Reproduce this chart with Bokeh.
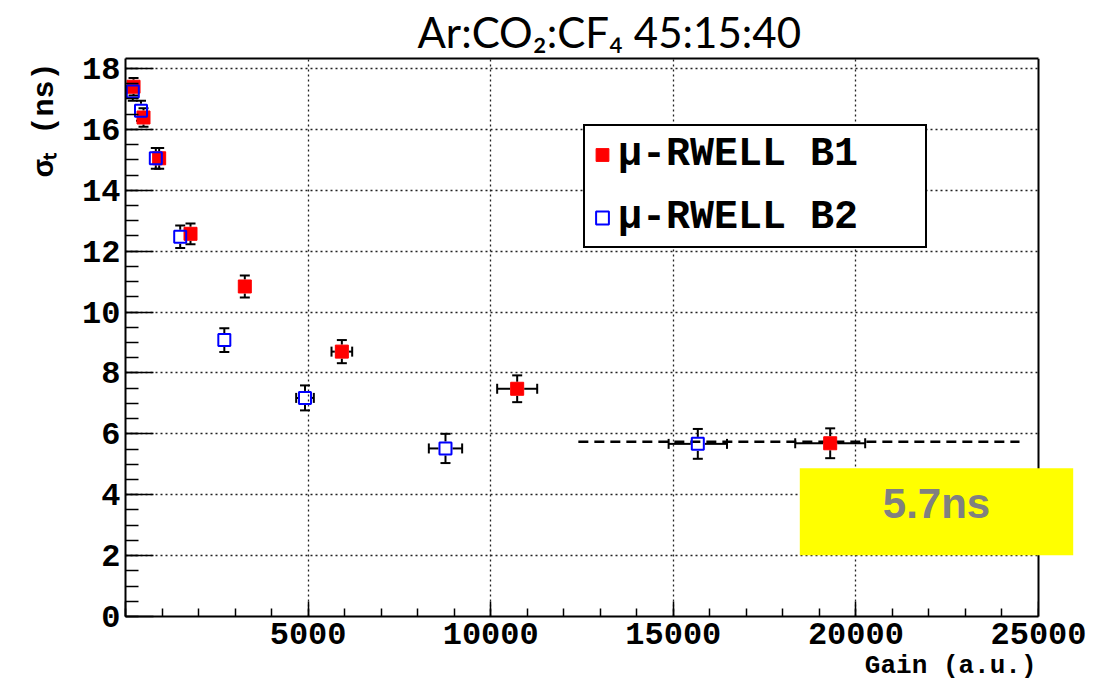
from bokeh.plotting import figure
from bokeh.models import (Range1d, FixedTicker, Whisker, TeeHead, ColumnDataSource,
                          Label, Legend, LegendItem, Title, LinearAxis, Span, BoxAnnotation)
from bokeh.embed import file_html
from bokeh.resources import INLINE

# ---------------- data ----------------
b1_gain = [220, 493, 922, 1780, 3267, 5924, 10725, 19296]
b1_sigma = [17.40, 16.39, 15.05, 12.57, 10.84, 8.70, 7.48, 5.69]
b1_gain_err = [0, 0, 0, 0, 0, 283, 548, 958]
b1_sigma_err = [0.29, 0.30, 0.34, 0.34, 0.36, 0.38, 0.44, 0.49]

b2_gain = [200, 424, 830, 1498, 2706, 4915, 8762, 15671]
b2_sigma = [17.24, 16.61, 15.05, 12.47, 9.08, 7.18, 5.52, 5.67]
b2_gain_err = [0, 0, 0, 0, 0, 242, 456, 799]
b2_sigma_err = [0.30, 0.33, 0.34, 0.37, 0.39, 0.41, 0.48, 0.49]

fit_gain = [12400, 24480]
fit_sigma = [5.74, 5.74]

x_ticks = [0, 5000, 10000, 15000, 20000, 25000]
x_minor = [1000 * i for i in range(26)]
y_ticks = [0, 2, 4, 6, 8, 10, 12, 14, 16, 18]
y_minor = [0.5 * i for i in range(37)]

labels = ["μ-RWELL B1", "μ-RWELL B2"]
title_text = "Ar:CO₂:CF₄ 45:15:40"
x_title = "Gain (a.u.)"
y_title = "σₜ (ns)"
box_text = "5.7ns"

# ---------------- geometry ----------------
W, H = 1097, 687
L, T, B = 125, 58, 70
FRAME_RIGHT = 1080          # frame drawn a bit wider so the yellow box is not clipped
AXIS_RIGHT_PX = 1038        # where x = 25000 sits
XMAX = 25000
PX_PER_X = (AXIS_RIGHT_PX - L) / XMAX
XEND = (FRAME_RIGHT - L) / PX_PER_X
FH = H - T - B
YMAX = FH / 30.5


def dx(px):
    return (px - L) / PX_PER_X


def dy(py):
    return (H - B - py) / FH * YMAX


GAP_X = 7 / PX_PER_X
GAP_Y = 7 / FH * YMAX

p = figure(width=W, height=H, output_backend="svg", toolbar_location=None,
           x_range=Range1d(0, XEND), y_range=Range1d(0, YMAX),
           min_border_left=L, min_border_right=W - FRAME_RIGHT,
           min_border_top=T, min_border_bottom=B)
p.background_fill_color = "white"
p.border_fill_color = "white"
p.outline_line_color = None

# axes
for ax in (p.xaxis[0], p.yaxis[0]):
    ax.axis_line_width = 2
    ax.axis_line_color = "black"
    ax.major_tick_line_width = 1.5
    ax.minor_tick_line_width = 1.5
    ax.major_tick_line_color = "black"
    ax.minor_tick_line_color = "black"
    ax.major_tick_out = 0
    ax.minor_tick_out = 0
    ax.major_label_text_font = "Liberation Mono"
    ax.major_label_text_font_style = "bold"
    ax.major_label_text_font_size = "32px"
    ax.major_label_text_color = "black"

p.xaxis.ticker = FixedTicker(ticks=x_ticks, minor_ticks=x_minor)
p.xaxis.bounds = (0, XMAX)
p.xaxis.major_label_overrides = {0: ""}
p.xaxis.major_tick_in = 15
p.xaxis.minor_tick_in = 8
p.xaxis.major_label_standoff = 6

p.yaxis.ticker = FixedTicker(ticks=y_ticks, minor_ticks=y_minor)
p.yaxis.major_tick_in = 28
p.yaxis.minor_tick_in = 13
p.yaxis.major_label_standoff = 5

# top frame edge as a bare axis
top_axis = LinearAxis(ticker=FixedTicker(ticks=[]), bounds=(0, XMAX), axis_line_width=2,
                      axis_line_color="black", major_tick_in=0, major_tick_out=0,
                      minor_tick_in=0, minor_tick_out=0, major_label_standoff=0,
                      major_label_text_font_size="0px")
p.add_layout(top_axis, "above")

p.xgrid.ticker = FixedTicker(ticks=x_ticks[1:-1])
p.ygrid.ticker = FixedTicker(ticks=y_ticks[1:])
for g in (p.xgrid[0], p.ygrid[0]):
    g.grid_line_color = "#222222"
    g.grid_line_width = 1.3
    g.grid_line_dash = "2 3"


# ---------------- error bars ----------------
def add_errors(gx, gy, ex, ey):
    up = ColumnDataSource(dict(x=gx, lo=[y + GAP_Y for y in gy], hi=[y + e for y, e in zip(gy, ey)]))
    dn = ColumnDataSource(dict(x=gx, lo=[y - e for y, e in zip(gy, ey)], hi=[y - GAP_Y for y in gy]))
    p.add_layout(Whisker(source=up, base="x", lower="lo", upper="hi", dimension="height",
                         line_color="black", line_width=2, lower_head=None,
                         upper_head=TeeHead(size=10, line_width=2, line_color="black")))
    p.add_layout(Whisker(source=dn, base="x", lower="lo", upper="hi", dimension="height",
                         line_color="black", line_width=2, upper_head=None,
                         lower_head=TeeHead(size=10, line_width=2, line_color="black")))
    idx = [i for i, e in enumerate(ex) if e > 0]
    rt = ColumnDataSource(dict(y=[gy[i] for i in idx], lo=[gx[i] + GAP_X for i in idx],
                               hi=[gx[i] + ex[i] for i in idx]))
    lf = ColumnDataSource(dict(y=[gy[i] for i in idx], lo=[gx[i] - ex[i] for i in idx],
                               hi=[gx[i] - GAP_X for i in idx]))
    p.add_layout(Whisker(source=rt, base="y", lower="lo", upper="hi", dimension="width",
                         line_color="black", line_width=2, lower_head=None,
                         upper_head=TeeHead(size=10, line_width=2, line_color="black")))
    p.add_layout(Whisker(source=lf, base="y", lower="lo", upper="hi", dimension="width",
                         line_color="black", line_width=2, upper_head=None,
                         lower_head=TeeHead(size=10, line_width=2, line_color="black")))


add_errors(b1_gain, b1_sigma, b1_gain_err, b1_sigma_err)
add_errors(b2_gain, b2_sigma, b2_gain_err, b2_sigma_err)

# fit line
p.line(fit_gain, fit_sigma, line_color="black", line_width=2.5, line_dash="10 6")

r1 = p.scatter(b1_gain, b1_sigma, marker="square", size=13, fill_color="#ff0000",
               line_color="#ff0000", line_width=1)
r2 = p.scatter(b2_gain, b2_sigma, marker="square", size=12, fill_color=None,
               line_color="#0000ff", line_width=2)

legend = Legend(items=[LegendItem(label=labels[0], renderers=[r1]),
                       LegendItem(label=labels[1], renderers=[r2])],
                location=(458, 368), orientation="vertical",
                label_text_font="Liberation Mono", label_text_font_style="bold",
                label_text_font_size="40px", label_text_color="black",
                border_line_color="black", border_line_width=2, border_line_alpha=1,
                background_fill_color="white", background_fill_alpha=1,
                padding=1, spacing=8, margin=0, glyph_width=32, glyph_height=55,
                label_height=55, label_width=306, label_standoff=0)
p.add_layout(legend)

# blank the area right of the x-axis end, then right frame edge, then yellow box
p.add_layout(BoxAnnotation(left=XMAX, fill_color="white", fill_alpha=1, line_color=None))
p.add_layout(Span(location=XMAX, dimension="height", line_color="black", line_width=2))
p.add_layout(Label(x=dx(936), y=dy(512), text=box_text, text_font="Liberation Sans",
                   text_font_style="bold", text_font_size="42px", text_color="#808080",
                   text_align="center", text_baseline="middle",
                   background_fill_color="#ffff00", background_fill_alpha=1,
                   padding=dict(left=83, right=83, top=12, bottom=28)))

# titles in the side panels
p.add_layout(Title(text=title_text, text_font="Lato", text_font_size="42px",
                   text_font_style="normal", text_color="black", align="left",
                   offset=417 - L, standoff=4), "above")
p.add_layout(Title(text=x_title, text_font="Liberation Mono", text_font_size="26px",
                   text_font_style="bold", text_color="black", align="right",
                   vertical_align="top", offset=FRAME_RIGHT - 1036, standoff=9), "below")
p.add_layout(Title(text=y_title, text_font="Liberation Mono", text_font_size="30px",
                   text_font_style="bold", text_color="black", align="right",
                   offset=4, standoff=36), "left")

open("out.html", "w").write(file_html(p, INLINE))
